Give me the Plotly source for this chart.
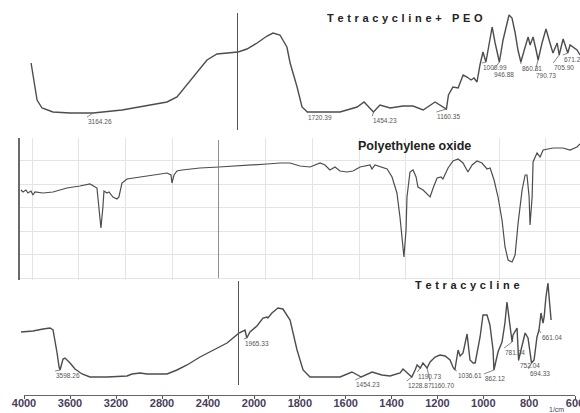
import plotly.graph_objects as go

W, H = 580, 413

# ---------------- spectra (wavenumber in 1/cm, transmittance in arbitrary units) -------------
# Tetracycline + PEO
tp_wn = [3662, 3614, 3574, 3486, 3349, 3164.26, 2931, 2763, 2570, 2490, 2410, 2329, 2249, 2169,
         2064, 2000,
         1964, 1923, 1883, 1859, 1831, 1803, 1790, 1762, 1742, 1720.39,
         1657, 1589, 1520, 1492, 1454.23, 1428, 1387, 1335, 1295, 1254,
         1206, 1160.35, 1152, 1134, 1113, 1093, 1077, 1061, 1049, 1037,
         1025, 1013, 1000.99, 984, 976, 964, 956, 946.88, 932, 916,
         908, 896, 884, 872, 860.31, 843, 831, 823, 811, 799,
         790.73, 775, 759, 743, 731, 714, 705.90, 690, 671.21, 662,
         650, 634, 622]
tp_t = [59, 22, 14, 10, 9, 9, 12, 16, 20, 25, 37, 50, 62, 68,
        69, 70,
        73, 79, 86, 89, 87, 75, 59, 35, 15, 10,
        10, 10, 15, 20, 10, 17, 14, 16, 16, 12,
        20, 13, 27, 35, 34, 47, 45, 42, 44, 40,
        57, 70, 60, 82, 95, 79, 70, 60, 82, 100,
        107, 104, 90, 72, 60, 75, 85, 77, 85, 72,
        62, 79, 93, 79, 69, 79, 67, 83, 69, 77,
        75, 72, 67]

# Polyethylene oxide
peo_wn = [3696, 3679, 3653, 3636, 3610, 3593, 3576, 3507, 3422, 3302, 3191, 3105, 3045, 3028,
          3011, 2994, 2985, 2959, 2942, 2908, 2874, 2857, 2831, 2788, 2677, 2565, 2445, 2411,
          2403, 2385, 2360, 2317, 2163, 2000, 1910, 1794, 1739, 1696, 1653, 1610, 1567, 1546,
          1525, 1503, 1482, 1452, 1426, 1396, 1353, 1345, 1332, 1280, 1259, 1238, 1225, 1216,
          1208, 1199, 1195, 1182, 1169, 1156, 1148, 1126, 1096, 1083, 1066, 1049, 1041, 1019,
          998, 976, 955, 934, 916, 895, 874, 852, 839, 822, 805, 788, 775, 762, 745, 732, 719,
          702, 689, 681, 672, 668, 659, 655, 638, 625, 612, 569, 527, 497, 467, 454]
peo_t = [90, 88, 90, 87, 89, 85, 88, 87, 88, 92, 94, 96, 92, 73,
         52, 73, 89, 87, 88, 83, 81, 83, 97, 101, 103, 105, 107, 105,
         97, 105, 109, 110, 112, 113, 114, 116, 117, 117, 114, 113, 117, 115,
         110, 113, 109, 108, 109, 113, 115, 111, 115, 111, 103, 87, 63, 37,
         23, 50, 83, 108, 110, 103, 93, 90, 83, 92, 102, 103, 101, 112,
         119, 121, 117, 108, 115, 119, 117, 111, 112, 100, 83, 60, 33, 20, 18, 25, 57,
         90, 105, 105, 83, 55, 83, 118, 127, 123, 130, 132, 132, 130, 133, 136]

# Tetracycline
tc_wn = [3947, 3840, 3750, 3688, 3661, 3643, 3625, 3607, 3598.26, 3572, 3554, 3509, 3465, 3402,
         3331, 3179, 3000, 2956, 2884, 2822, 2732, 2643, 2554, 2464, 2348, 2232, 2107, 2000,
         1973, 1965.33, 1951, 1920, 1893, 1875, 1871, 1853, 1826, 1804,
         1772, 1741, 1714, 1683, 1625, 1549, 1496, 1454.23, 1406, 1362,
         1326, 1281, 1268, 1250, 1228.87, 1214, 1205, 1190.73, 1179, 1160.70,
         1147, 1125, 1103, 1080, 1058, 1045, 1036.61, 1022, 1013, 1000,
         982, 969, 955, 946, 924, 911, 893, 880, 866, 862.12,
         844, 826, 822, 813, 804, 795, 781.04, 777, 759, 752.04,
         732, 723, 710, 701, 694.33, 683, 670, 661.04, 652, 643,
         638, 630, 621, 616, 607]
tc_t = [58, 59, 61, 62, 60, 50, 37, 23, 20, 31, 32, 27, 21, 16,
        13, 13, 14, 16, 17, 16, 16, 16, 20, 25, 33, 40, 47, 57,
        60, 52, 58, 64, 72, 73, 72, 77, 82, 81,
        70, 40, 20, 13, 13, 13, 18, 13, 18, 15,
        14, 17, 21, 17, 13, 20, 25, 22, 27, 22,
        28, 33, 35, 34, 30, 23, 20, 40, 34, 37,
        56, 30, 27, 27, 53, 75, 75, 65, 40, 20,
        38, 48, 53, 67, 88, 73, 48, 55, 62, 30,
        47, 57, 52, 37, 27, 30, 53, 60, 77, 67,
        73, 93, 107, 93, 70]

# labelled band positions
tp_peaks = [3164.26, 1720.39, 1454.23, 1160.35, 1000.99, 946.88, 860.31, 790.73, 705.90, 671.21]
tc_peaks = [3598.26, 1965.33, 1454.23, 1228.87, 1190.73, 1160.70, 1036.61, 862.12,
            781.04, 752.04, 694.33, 661.04]

# scale break shared by the instruments
BREAK = 2000
axis_hi_ticks = [4000, 3600, 3200, 2800, 2400]
axis_lo_ticks = [2000, 1800, 1600, 1400, 1200, 1000, 800, 600]

# where each band label sits relative to its band (pixels: dx, dy)
tp_label_pos = {3164.26: (-6, 4), 1720.39: (0, 1), 1454.23: (-1, 4), 1160.35: (-10, 3),
                1000.99: (-4, 1), 946.88: (-6, 8), 860.31: (0, 2), 790.73: (-3, 11),
                705.90: (-6, 8), 671.21: (-5, 2)}
tc_label_pos = {3598.26: (-5, 1), 1965.33: (-3, 1), 1454.23: (-6, 3), 1228.87: (-5, 4),
                1190.73: (-3, 4), 1160.70: (3, 13), 1036.61: (2, 1), 862.12: (-10, 4),
                781.04: (-8, 6), 752.04: (0, 1), 694.33: (-3, 6), 661.04: (2, 3)}


def px(x):
    return x / W


def py(y):
    return (H - y) / H


def split(wn, t):
    hi = [(w, v) for w, v in zip(wn, t) if w >= BREAK]
    lo = [(w, v) for w, v in zip(wn, t) if w <= BREAK]
    return hi, lo


LINE = "#4d4d4d"
fig = go.Figure()

panels = [
    (tp_wn, tp_t, "x", "x2", "y", 1.4),
    (peo_wn, peo_t, "x3", "x4", "y2", 1.2),
    (tc_wn, tc_t, "x5", "x6", "y3", 1.4),
]
for wn, t, xh, xl, ya, lw in panels:
    hi, lo = split(wn, t)
    for part, xa in ((hi, xh), (lo, xl)):
        fig.add_trace(go.Scatter(
            x=[p[0] for p in part], y=[p[1] for p in part],
            xaxis=xa, yaxis=ya, mode="lines",
            line=dict(color=LINE, width=lw), hoverinfo="skip", showlegend=False))

# empty traces that hold the wavenumber scale at the bottom
for xa in ("x7", "x8"):
    fig.add_trace(go.Scatter(x=[], y=[], xaxis=xa, yaxis="y4", showlegend=False))

hidden = dict(visible=False, fixedrange=True, automargin=False)
grid = "#e4e4e4"
scale_font = dict(family="Liberation Sans", size=11, color="#4a3d5e", weight="bold")
paper_grid = dict(showgrid=True, gridcolor=grid, gridwidth=1, showticklabels=False, ticks="",
                  zeroline=False, automargin=False)
scale_axis = dict(ticks="outside", ticklen=3, tickcolor="#555", showline=True,
                  linecolor="#666", linewidth=1.2, showgrid=False, zeroline=False,
                  ticklabeloverflow="allow", ticklabelstandoff=-5, automargin=False,
                  tickfont=scale_font)
fig.update_layout(
    width=W, height=H, margin=dict(l=0, r=0, t=0, b=0, autoexpand=False),
    paper_bgcolor="white", plot_bgcolor="rgba(0,0,0,0)",
    showlegend=False,
    # top spectrum
    xaxis=dict(domain=[px(20), px(238)], range=[3751, 2000], anchor="y", **hidden),
    xaxis2=dict(domain=[px(238), px(580)], range=[2000, 622], anchor="y", **hidden),
    yaxis=dict(domain=[py(122), py(8)], range=[0, 114], anchor="x", **hidden),
    # middle spectrum on gridded chart paper
    xaxis3=dict(domain=[px(20), px(219)], range=[3704, 2000], anchor="y2",
                tick0=2000, dtick=400, showline=False, **paper_grid),
    xaxis4=dict(domain=[px(219), px(580)], range=[2000, 454], anchor="y2",
                tick0=2000, dtick=200, showline=False, **paper_grid),
    yaxis2=dict(domain=[py(280), py(138)], range=[0, 142], anchor="x3",
                tick0=2, dtick=23.5, showline=True, linecolor="#6a6a6a", linewidth=1.5,
                **paper_grid),
    # bottom spectrum
    xaxis5=dict(domain=[px(18), px(239)], range=[3974, 2000], anchor="y3", **hidden),
    xaxis6=dict(domain=[px(239), px(580)], range=[2000, 478], anchor="y3", **hidden),
    yaxis3=dict(domain=[py(390), py(280)], range=[0, 110], anchor="x5", **hidden),
    # wavenumber scale
    xaxis7=dict(domain=[px(24), px(254)], range=[4000, 2000], anchor="y4",
                tickvals=axis_hi_ticks, **scale_axis),
    xaxis8=dict(domain=[px(254), px(575)], range=[2000, 600], anchor="y4",
                tickvals=axis_lo_ticks, **scale_axis),
    yaxis4=dict(domain=[py(395), py(392)], range=[0, 1], anchor="x7", **hidden),
)

# scale-break lines at 2000 1/cm
fig.add_shape(type="line", xref="x", yref="paper", x0=BREAK, x1=BREAK,
              y0=py(130), y1=py(13), line=dict(color="#555", width=2))
fig.add_shape(type="line", xref="x3", yref="paper", x0=BREAK, x1=BREAK,
              y0=py(278), y1=py(140), line=dict(color="#6a6a6a", width=1.5))
fig.add_shape(type="line", xref="x5", yref="paper", x0=BREAK, x1=BREAK,
              y0=py(385), y1=py(281), line=dict(color="#555", width=2))


def peak_label(w, wn, t, xh, xl, ya, pos):
    v = t[wn.index(w)]
    dx, dy = pos[w]
    fig.add_annotation(
        x=w, y=v, xref=xh if w > BREAK else xl, yref=ya,
        text=f"{w:.2f}", showarrow=True, arrowhead=0, arrowwidth=0.8,
        arrowcolor="#666", ax=dx, ay=dy, standoff=0, xanchor="left", yanchor="top",
        borderpad=0, font=dict(family="Liberation Sans", size=6.5, color="#555"))


for w in tp_peaks:
    peak_label(w, tp_wn, tp_t, "x", "x2", "y", tp_label_pos)
for w in tc_peaks:
    peak_label(w, tc_wn, tc_t, "x5", "x6", "y3", tc_label_pos)


def spaced(s):
    return "\u2004".join(s)


def label(x, y, text, font):
    fig.add_annotation(x=px(x), y=py(y), xref="paper", yref="paper", showarrow=False,
                       xanchor="center", yanchor="middle", text=text, font=font)


title_font = dict(family="Liberation Sans", size=11, color="#222", weight="bold")
label(405, 18, spaced("Tetracycline+ PEO"), title_font)
label(414, 146, "Polyethylene oxide",
      dict(family="Liberation Sans", size=12.5, color="#222", weight="bold"))
label(468, 285, spaced("Tetracycline"), title_font)
label(556, 409.5, "1/cm", dict(family="Liberation Sans", size=7, color="#4a3d5e"))

fig.write_html("out.html", post_script="document.body.style.margin='0';")
